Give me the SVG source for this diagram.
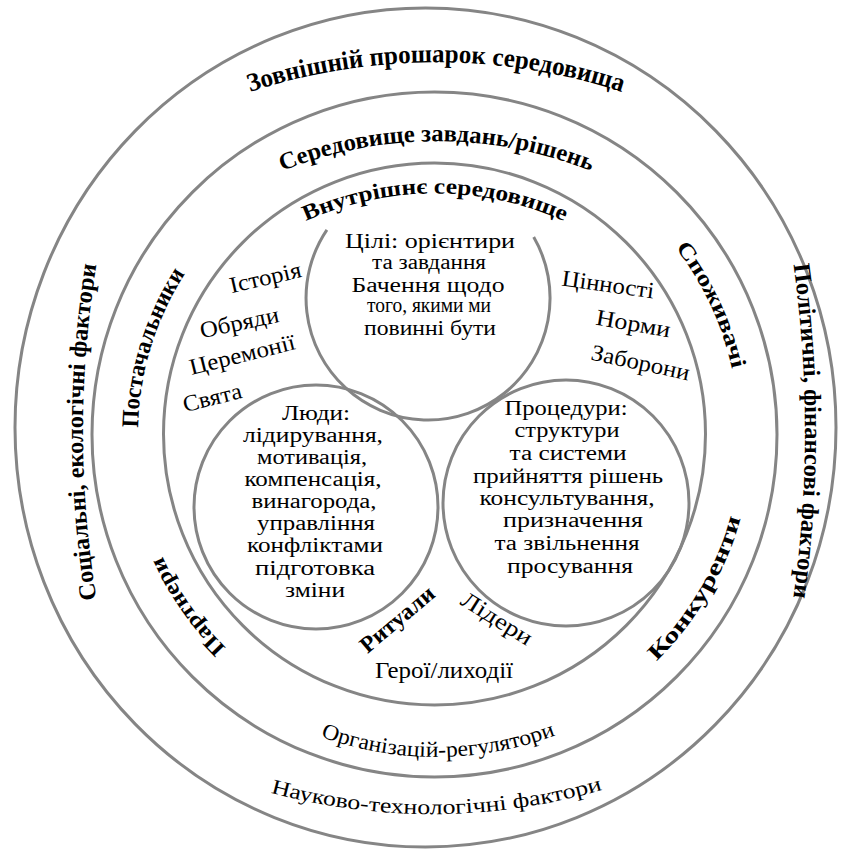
<svg xmlns="http://www.w3.org/2000/svg" width="846" height="852" viewBox="0 0 846 852">
<style>
.ring{fill:none;stroke:#858585;stroke-width:3}
.wa{font-family:"Liberation Serif",serif;font-weight:bold;fill:#000}
.wn{font-family:"Liberation Serif",serif;fill:#000}
.t{font-family:"Liberation Serif",serif;font-size:23px;fill:#000;text-anchor:middle}
.c{font-family:"Liberation Serif",serif;font-size:20px;fill:#000;text-anchor:middle}
</style>
<defs>
<path id="p1" d="M 247,93 A 598 598 0 0 1 625,93"/>
<path id="p2" d="M 280,172 A 413 413 0 0 1 593,172"/>
<path id="p3" d="M 304,222 A 315 315 0 0 1 566,222"/>
<path id="p4" d="M 97,602 A 1040 1040 0 0 1 97,262"/>
<path id="p5" d="M 138,428.8 A 296 296 0 0 1 185.7,272.8"/>
<path id="p6" d="M 227,648.4 A 298 298 0 0 1 161.8,555.2"/>
<path id="p7" d="M 793,262 A 1200 1200 0 0 1 793,600"/>
<path id="p8" d="M 674.3,246.2 A 305 305 0 0 1 732.3,370.6"/>
<path id="p9" d="M 654.9,662.7 A 318 318 0 0 0 741.2,516.3"/>
<path id="p10" d="M 318,735.7 A 338 338 0 0 0 558,734.2"/>
<path id="p11" d="M 268,792 A 614 614 0 0 0 605,789"/>
</defs>
<rect width="846" height="852" fill="#fff"/>

<g id="outer-environment">
<ellipse class="ring" cx="425.5" cy="427.5" rx="410.5" ry="419.5"/>
<text class="wa" font-size="26"><textPath href="#p1" startOffset="50%" text-anchor="middle" textLength="378" lengthAdjust="spacingAndGlyphs">Зовнішній прошарок середовища</textPath></text>
<text class="wa" font-size="24"><textPath href="#p4" startOffset="50%" text-anchor="middle" textLength="336" lengthAdjust="spacingAndGlyphs">Соціальні, екологічні фактори</textPath></text>
<text class="wa" font-size="24"><textPath href="#p7" startOffset="50%" text-anchor="middle" textLength="334" lengthAdjust="spacingAndGlyphs">Політичні, фінансові фактори</textPath></text>
<text class="wn" font-size="21"><textPath href="#p11" startOffset="50%" text-anchor="middle" textLength="336" lengthAdjust="spacingAndGlyphs">Науково-технологічні фактори</textPath></text>
</g>

<g id="task-environment">
<circle class="ring" cx="434.5" cy="434.5" r="342.5"/>
<text class="wa" font-size="24"><textPath href="#p2" startOffset="50%" text-anchor="middle" textLength="316" lengthAdjust="spacingAndGlyphs">Середовище завдань/рішень</textPath></text>
<text class="wa" font-size="24"><textPath href="#p5" startOffset="50%" text-anchor="middle" textLength="163" lengthAdjust="spacingAndGlyphs">Постачальники</textPath></text>
<text class="wa" font-size="22"><textPath href="#p6" startOffset="50%" text-anchor="middle" textLength="112" lengthAdjust="spacingAndGlyphs">Партнери</textPath></text>
<text class="wa" font-size="22"><textPath href="#p8" startOffset="50%" text-anchor="middle" textLength="135" lengthAdjust="spacingAndGlyphs">Споживачі</textPath></text>
<text class="wa" font-size="22"><textPath href="#p9" startOffset="50%" text-anchor="middle" textLength="168" lengthAdjust="spacingAndGlyphs">Конкуренти</textPath></text>
<text class="wn" font-size="22"><textPath href="#p10" startOffset="50%" text-anchor="middle" textLength="240" lengthAdjust="spacingAndGlyphs">Організацій-регулятори</textPath></text>
</g>

<g id="internal-environment">
<circle class="ring" cx="434.5" cy="434" r="271"/>
<text class="wa" font-size="22"><textPath href="#p3" startOffset="50%" text-anchor="middle" textLength="266" lengthAdjust="spacingAndGlyphs">Внутрішнє середовище</textPath></text>
<text class="t" transform="translate(267,285) rotate(-13)" textLength="73" lengthAdjust="spacingAndGlyphs">Історія</text>
<text class="t" transform="translate(241,330) rotate(-12)" textLength="80" lengthAdjust="spacingAndGlyphs">Обряди</text>
<text class="t" transform="translate(244,362) rotate(-14)" textLength="108" lengthAdjust="spacingAndGlyphs">Церемонії</text>
<text class="t" transform="translate(214,405) rotate(-14)" textLength="60" lengthAdjust="spacingAndGlyphs">Свята</text>
<text class="t" transform="translate(607,292) rotate(8)" textLength="93" lengthAdjust="spacingAndGlyphs">Цінності</text>
<text class="t" transform="translate(632,331) rotate(10)" textLength="75" lengthAdjust="spacingAndGlyphs">Норми</text>
<text class="t" transform="translate(639,370) rotate(12)" textLength="100" lengthAdjust="spacingAndGlyphs">Заборони</text>
<text class="t" font-weight="bold" font-size="21" transform="translate(402,625) rotate(-40)" textLength="90" lengthAdjust="spacingAndGlyphs">Ритуали</text>
<text class="t" font-size="22" transform="translate(493,625) rotate(32)" textLength="80" lengthAdjust="spacingAndGlyphs">Лідери</text>
<text class="t" x="444" y="678" font-size="24" textLength="138" lengthAdjust="spacingAndGlyphs">Герої/лиходії</text>
</g>

<g id="goals">
<path class="ring" d="M 533.7,237 A 122 122 0 1 1 326.9,229.8"/>
<text class="c" x="430" y="248" textLength="170" lengthAdjust="spacingAndGlyphs">Цілі: орієнтири</text>
<text class="c" x="429" y="269" font-size="16" textLength="114" lengthAdjust="spacingAndGlyphs">та завдання</text>
<text class="c" x="428" y="292" font-size="19" textLength="153" lengthAdjust="spacingAndGlyphs">Бачення щодо</text>
<text class="c" x="429" y="312" font-size="16" textLength="124" lengthAdjust="spacingAndGlyphs">того, якими ми</text>
<text class="c" x="430" y="335" textLength="132" lengthAdjust="spacingAndGlyphs">повинні бути</text>
</g>

<g id="people">
<circle class="ring" cx="316" cy="507" r="122"/>
<text class="c" x="316" y="420" textLength="68" lengthAdjust="spacingAndGlyphs">Люди:</text>
<text class="c" x="313" y="442" textLength="140" lengthAdjust="spacingAndGlyphs">лідирування,</text>
<text class="c" x="312" y="464" textLength="110" lengthAdjust="spacingAndGlyphs">мотивація,</text>
<text class="c" x="313" y="486" textLength="137" lengthAdjust="spacingAndGlyphs">компенсація,</text>
<text class="c" x="314" y="508" textLength="125" lengthAdjust="spacingAndGlyphs">винагорода,</text>
<text class="c" x="316" y="530" textLength="118" lengthAdjust="spacingAndGlyphs">управління</text>
<text class="c" x="315" y="552" textLength="136" lengthAdjust="spacingAndGlyphs">конфліктами</text>
<text class="c" x="315" y="575" textLength="120" lengthAdjust="spacingAndGlyphs">підготовка</text>
<text class="c" x="315" y="597" textLength="60" lengthAdjust="spacingAndGlyphs">зміни</text>
</g>

<g id="procedures">
<circle class="ring" cx="566" cy="503" r="123"/>
<text class="c" x="566" y="415" textLength="123" lengthAdjust="spacingAndGlyphs">Процедури:</text>
<text class="c" x="567" y="437" textLength="105" lengthAdjust="spacingAndGlyphs">структури</text>
<text class="c" x="568" y="460" textLength="117" lengthAdjust="spacingAndGlyphs">та системи</text>
<text class="c" x="568" y="483" textLength="190" lengthAdjust="spacingAndGlyphs">прийняття рішень</text>
<text class="c" x="567" y="505" textLength="175" lengthAdjust="spacingAndGlyphs">консультування,</text>
<text class="c" x="573" y="527" textLength="140" lengthAdjust="spacingAndGlyphs">призначення</text>
<text class="c" x="567" y="550" textLength="145" lengthAdjust="spacingAndGlyphs">та звільнення</text>
<text class="c" x="570" y="573" textLength="126" lengthAdjust="spacingAndGlyphs">просування</text>
</g>
</svg>
